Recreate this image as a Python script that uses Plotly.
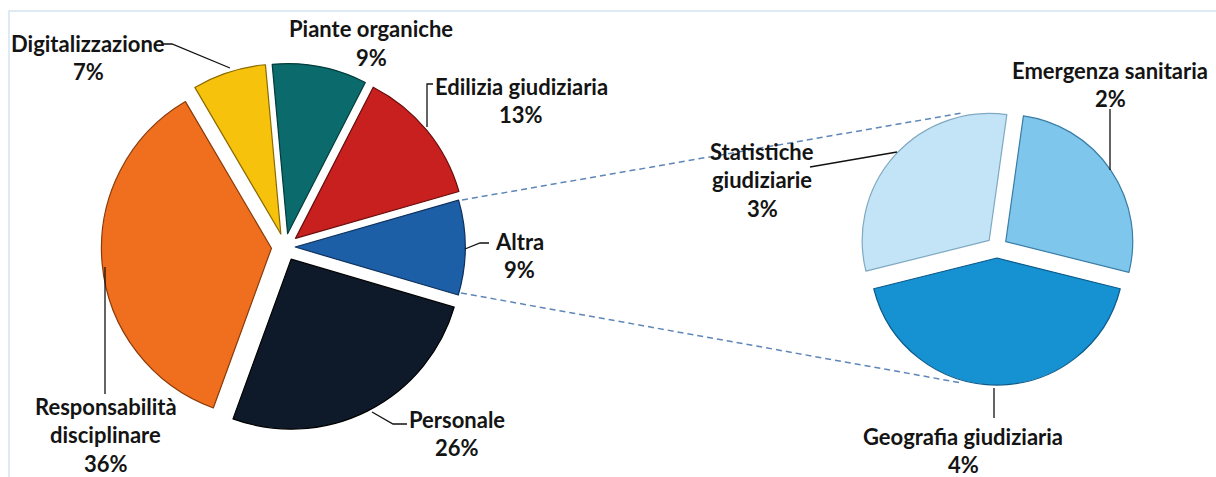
import plotly.graph_objects as go

W, H = 1216, 477

# ---------------- data ----------------
main_labels = ["Altra", "Personale", "Responsabilità disciplinare",
               "Digitalizzazione", "Piante organiche", "Edilizia giudiziaria"]
main_values = [9, 26, 36, 7, 9, 13]
main_colors = ["#1d5fa7", "#0e1a2a", "#f06f1f", "#f6c20c", "#0b6b6c", "#c81f1f"]
main_edges = ["#0c2f5c", "#000000", "#8a3a08", "#8a6a00", "#033a3a", "#6a0c0c"]

sub_labels = ["Emergenza sanitaria", "Geografia giudiziaria", "Statistiche giudiziarie"]
sub_values = [2.4, 3.8, 2.8]
sub_colors = ["#7ec6eb", "#1692d2", "#c3e4f6"]
sub_edges = ["#3a7da6", "#0b5a8a", "#7fa9c2"]

# label text lines (display)
main_lines = [["Altra"], ["Personale"], ["Responsabilità", "disciplinare"],
              ["Digitalizzazione"], ["Piante organiche"], ["Edilizia giudiziaria"]]
sub_lines = [["Emergenza sanitaria"], ["Geografia giudiziaria"], ["Statistiche", "giudiziarie"]]


def px(x, y):
    return x / W, 1 - y / H


def domain(cx, cy, r, maxpull):
    h = r * (1 + maxpull)
    return dict(x=[(cx - h) / W, (cx + h) / W], y=[1 - (cy + h) / H, 1 - (cy - h) / H])


main_pull = [0.06, 0.08, 0.08, 0.08, 0.08, 0.08]
sub_pull = [0.083, 0.083, 0.083]

fig = go.Figure()
fig.add_trace(go.Pie(
    labels=main_labels, values=main_values, sort=False, direction="clockwise",
    rotation=74, pull=main_pull, textinfo="none", hoverinfo="label+percent",
    marker=dict(colors=main_colors, line=dict(color=main_edges, width=1.2)),
    domain=domain(285, 247, 170, max(main_pull)), showlegend=False,
))
fig.add_trace(go.Pie(
    labels=sub_labels, values=sub_values, sort=False, direction="clockwise",
    rotation=8, pull=sub_pull, textinfo="none", hoverinfo="label+value",
    marker=dict(colors=sub_colors, line=dict(color=sub_edges, width=1.2)),
    domain=domain(997, 247.5, 127, max(sub_pull)), showlegend=False,
))

FONT = dict(family="Lato, 'Open Sans', sans-serif", size=22, color="#141414")
LS = 28.5

# label positions (center x, y of first line), pixels
main_pos = [(519, 241), (457, 419), (106, 406), (88, 43), (371, 29), (521, 86)]
sub_pos = [(1110, 70), (963, 436), (762, 151)]

annotations = []


def add_label(lines, pct, pos):
    cx, cy = pos
    for i, t in enumerate(lines + [pct]):
        x, y = px(cx, cy + i * LS)
        annotations.append(dict(x=x, y=y, xref="paper", yref="paper", text="<b>%s</b>" % t,
                                showarrow=False, xanchor="center", yanchor="middle", font=FONT))


for lines, v, pos in zip(main_lines, main_values, main_pos):
    add_label(lines, "%d%%" % round(v), pos)
for lines, v, pos in zip(sub_lines, sub_values, sub_pos):
    add_label(lines, "%d%%" % round(v), pos)

shapes = []


def path(points, color="#111111", width=1.3, dash="solid"):
    d = ""
    for i, (x, y) in enumerate(points):
        X, Y = px(x, y)
        d += ("M" if i == 0 else "L") + "%.5f,%.5f" % (X, Y)
    shapes.append(dict(type="path", path=d, xref="paper", yref="paper",
                       line=dict(color=color, width=width, dash=dash)))


# frame
fx0, fy0 = px(9, 11)
fx1, fy1 = px(1230, 490)
shapes.append(dict(type="rect", xref="paper", yref="paper", x0=fx0, y0=fy1, x1=fx1, y1=fy0,
                   line=dict(color="#d4e5f5", width=1.5), layer="below"))

# leader lines
path([(163, 44), (172, 44), (230, 68)])                 # Digitalizzazione
path([(433, 84), (427, 84), (427, 127)])                # Edilizia
path([(465, 249), (480, 243), (489, 243)])              # Altra
path([(372, 412), (393, 424), (407, 424)])              # Personale
path([(105, 267), (105, 394)])                           # Responsabilità
path([(1110, 109), (1110, 170)])                         # Emergenza
path([(810, 167), (897, 152)])                           # Statistiche
path([(994, 388), (994, 418)])                           # Geografia

# connectors
path([(462, 200), (962, 113)], color="#5f86b8", width=1.5, dash="6px,4px")
path([(461, 293), (962, 383)], color="#5f86b8", width=1.5, dash="6px,4px")

fig.update_layout(
    width=W, height=H, margin=dict(l=0, r=0, t=0, b=0),
    paper_bgcolor="white", plot_bgcolor="white",
    annotations=annotations, shapes=shapes,
)
fig.write_html("out.html", config={"displayModeBar": False},
               post_script="document.body.style.margin='0';document.body.style.overflow='hidden';")
